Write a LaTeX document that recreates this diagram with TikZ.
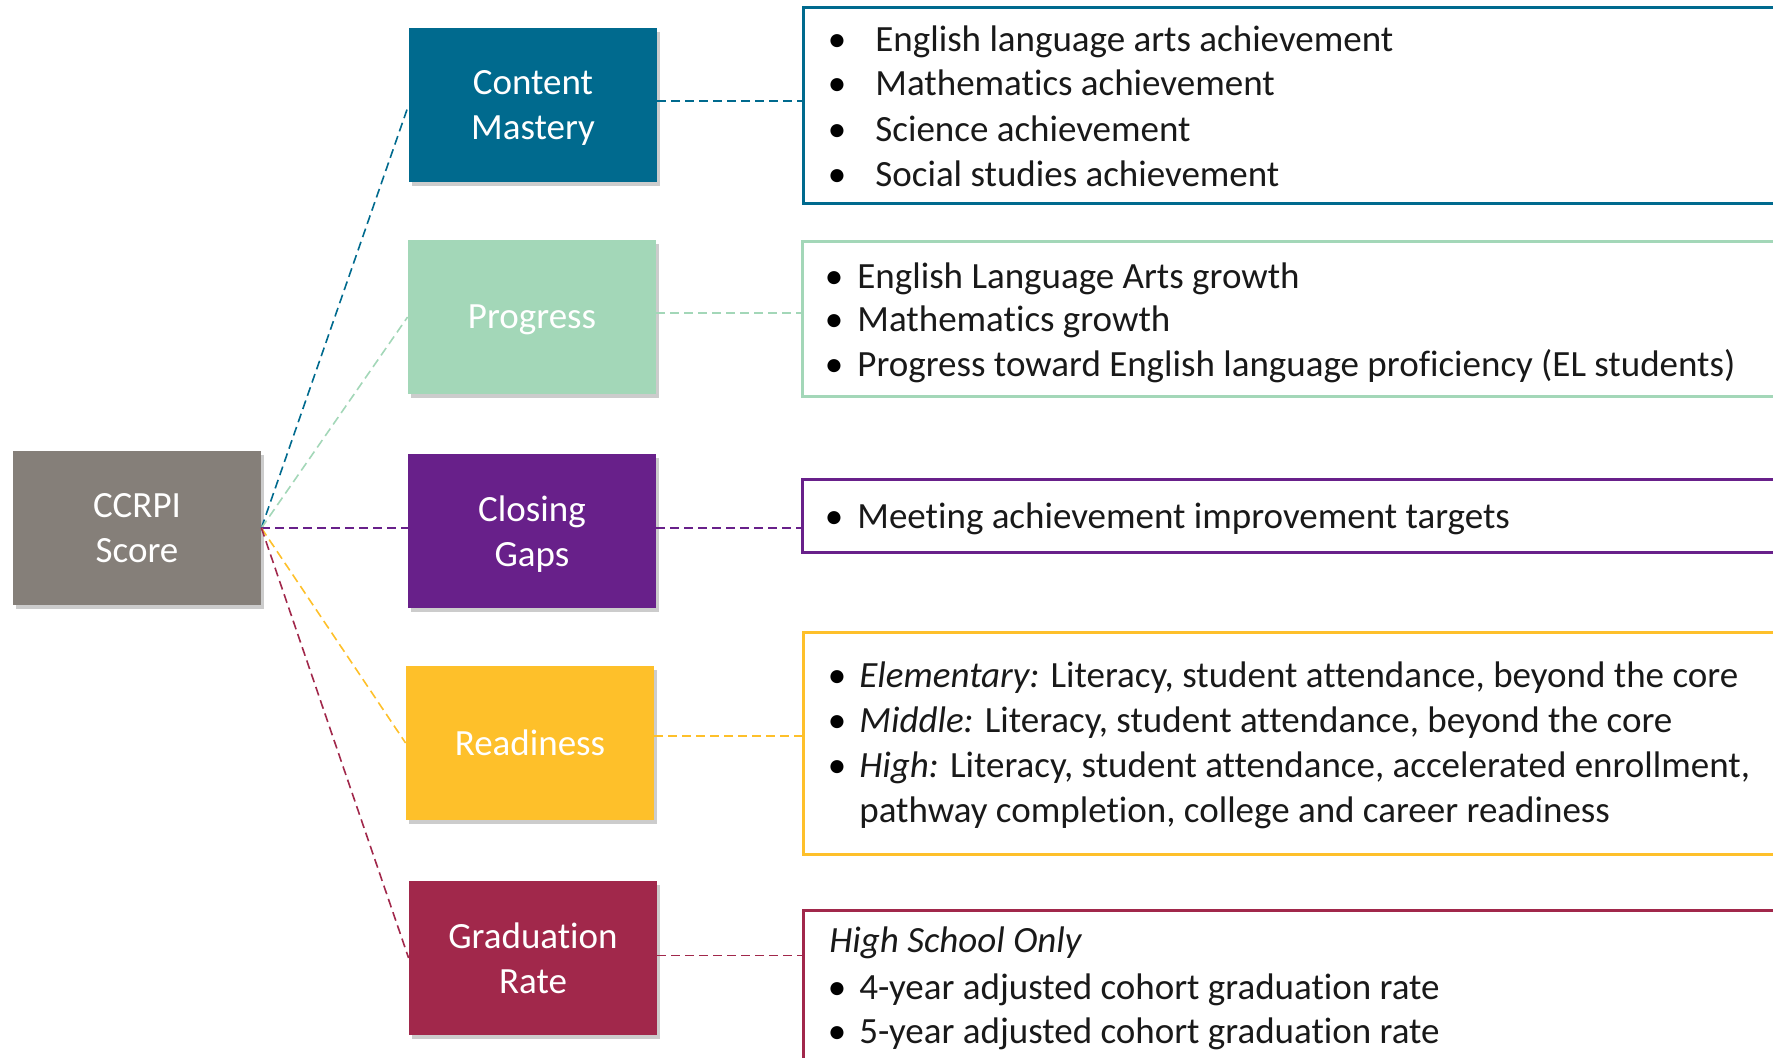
\documentclass[tikz,border=0pt]{standalone}
\usepackage{fontspec}
\setmainfont{Carlito}[Ligatures=NoCommon]
\usetikzlibrary{shadows}
\definecolor{cgray}{HTML}{857F79}
\definecolor{cteal}{HTML}{006A8E}
\definecolor{cgreen}{HTML}{A3D7B8}
\definecolor{cpurple}{HTML}{68208A}
\definecolor{cyellow}{HTML}{FEC02A}
\definecolor{cmaroon}{HTML}{A1284B}
\newcommand\bitem[5]{\node[bul] (#1b) at (#2,#4) {\textbullet}; \node[itm] (#1) at (#3,#4) {#5};}
\begin{document}
\begin{tikzpicture}[x=0.5pt,y=-0.5pt,
  lbox/.style={fill=#1, text=white, minimum width=124pt, minimum height=77pt, inner sep=0pt, align=center,
    text depth=0pt, font=\fontsize{18.5}{22.5}\selectfont,
    drop shadow={shadow xshift=1.5pt, shadow yshift=-2pt, opacity=0.2, fill=black}},
  rbox/.style={draw=#1, line width=1.5pt, anchor=north west, inner sep=0pt, minimum width=500pt},
  conn/.style={draw=#1, line width=0.8pt, dash pattern=on 4.5pt off 2.5pt},
  itm/.style={anchor=base west, inner sep=0pt, text=black!90, font=\fontsize{18.5}{22.5}\selectfont},
  bul/.style={anchor=base, inner sep=0pt, text=black, font=\fontsize{18.5}{22.5}\selectfont}
]
\useasboundingbox (0,0) rectangle (1773,1057);

% left column
\node[lbox=cgray]   (ccrpi) at (137,528) {CCRPI\\Score};
\node[lbox=cteal]   (cm) at (533,105) {Content\\Mastery};
\node[lbox=cgreen]  (pr) at (532,317) {Progress};
\node[lbox=cpurple] (cg) at (532,531) {Closing\\Gaps};
\node[lbox=cyellow] (rd) at (530,743) {Readiness};
\node[lbox=cmaroon] (gr) at (533,958) {Graduation\\Rate};

% right boxes
\node[rbox=cteal,   minimum height=98pt]  (rb1) at (802,6) {};
\node[rbox=cgreen,  minimum height=77.5pt] (rb2) at (801,240) {};
\node[rbox=cpurple, minimum height=36.5pt] (rb3) at (801,478) {};
\node[rbox=cyellow, minimum height=111pt] (rb4) at (802,631) {};
\node[rbox=cmaroon, minimum height=90pt]  (rb5) at (802,909) {};

% connectors
\draw[conn=cteal]   (ccrpi.east) -- (cm.west);
\draw[conn=cgreen]  (ccrpi.east) -- (pr.west);
\draw[conn=cpurple] (ccrpi.east) -- (ccrpi.east -| cg.west);
\draw[conn=cyellow] (ccrpi.east) -- (rd.west);
\draw[conn=cmaroon] (ccrpi.east) -- (gr.west);
\draw[conn=cteal]   ([yshift=2pt]cm.east) -- ([yshift=2pt]cm.east -| rb1.west);
\draw[conn=cgreen]  ([yshift=2pt]pr.east) -- ([yshift=2pt]pr.east -| rb2.west);
\draw[conn=cpurple] (ccrpi.east -| cg.east) -- (ccrpi.east -| rb3.west);
\draw[conn=cyellow] ([yshift=3.5pt]rd.east) -- ([yshift=3.5pt]rd.east -| rb4.west);
\draw[conn=cmaroon] ([yshift=1.2pt]gr.east) -- ([yshift=1.2pt]gr.east -| rb5.west);

% box 1
\bitem{a1}{837}{875}{51}{English language arts achievement}
\bitem{a2}{837}{875}{95}{Mathematics achievement}
\bitem{a3}{837}{875}{141}{Science achievement}
\bitem{a4}{837}{875}{186}{Social studies achievement}
% box 2
\bitem{b1}{834}{857}{288}{English Language Arts growth}
\bitem{b2}{834}{857}{331}{Mathematics growth}
\bitem{b3}{834}{857}{376}{Progress toward English language proficiency (EL students)}
% box 3
\bitem{c1}{834}{857}{528}{Meeting achievement improvement targets}
% box 4
\bitem{d1}{837}{859}{687}{\textit{Elementary:} Literacy, student attendance, beyond the core}
\bitem{d2}{837}{859}{732}{\textit{Middle:} Literacy, student attendance, beyond the core}
\bitem{d3}{837}{859}{777}{\textit{High:} Literacy, student attendance, accelerated enrollment,}
\node[itm] (d4) at (859,822) {pathway completion, college and career readiness};
% box 5
\node[itm] (e0) at (829,952) {\textit{High School Only}};
\bitem{e1}{837}{859}{999}{4-year adjusted cohort graduation rate}
\bitem{e2}{837}{859}{1043}{5-year adjusted cohort graduation rate}
\end{tikzpicture}
\end{document}
